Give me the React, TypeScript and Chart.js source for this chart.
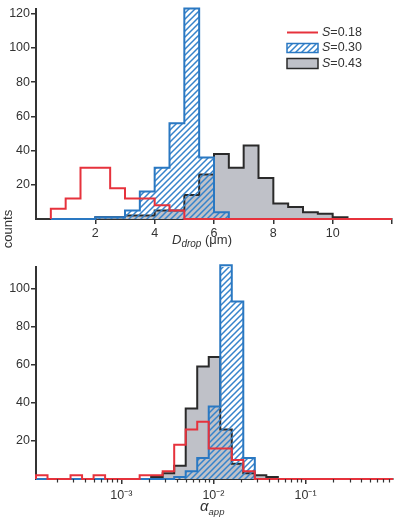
import { useEffect, useRef } from "react";
import { Chart, registerables } from "chart.js";

Chart.register(...registerables);

// ---- droplet diameter histogram (top panel) ----
const DROP_EDGES = [
  0.5, 1.0, 1.5, 2.0, 2.5, 3.0, 3.5, 4.0, 4.5, 5.0, 5.5, 6.0,
  6.5, 7.0, 7.5, 8.0, 8.5, 9.0, 9.5, 10.0, 10.5, 11.0, 11.5, 12.0,
];
const DROP_S018 = [6, 12, 30, 30, 18, 12, 12, 8, 5, 0, 0, 0, 0, 0, 0, 0, 0, 0, 0, 0, 0, 0, 0];
const DROP_S030 = [0, 0, 0, 1, 1, 5, 16, 30, 56, 123, 36, 4, null, null, null, null, null, null, null, null, null, null, null];
const DROP_S043 = [null, null, null, 1, 1, 2, 2, 5, 5, 14, 26, 38, 30, 43, 24, 9, 7, 4, 3, 1, null, null, null];
const DROP_TICKS = [2, 4, 6, 8, 10, 12];
const DROP_TICK_LABELS = ["2", "4", "6", "8", "10", ""];
const TOP_COUNT_TICKS = [20, 40, 60, 80, 100, 120];

// ---- apparent alpha histogram (bottom panel), bin edges as log10 exponents ----
const ALPHA_LOG_EDGES = [
  -3.926, -3.801, -3.676, -3.551, -3.426, -3.301, -3.176, -3.051,
  -2.926, -2.801, -2.676, -2.551, -2.426, -2.301, -2.176, -2.051,
  -1.926, -1.801, -1.676, -1.551, -1.426, -1.301, -1.176, -1.051,
  -0.926, -0.801, -0.676, -0.551, -0.426, -0.301, -0.176, -0.051,
];
const ALPHA_S018 = [2, 0, 0, 2, 0, 2, 0, 0, 0, 2, 2, 4, 18, 26, 30, 16, 16, 10, 4, 0, 0, 0, 0, 0, 0, 0, 0, 0, 0, 0, 0];
const ALPHA_S030 = [0, 0, 0, 0, 0, 0, 0, 0, 0, 0, 0, 0, 1, 4, 11, 38, 112, 93, 11, 0, null, null, null, null, null, null, null, null, null, null, null];
const ALPHA_S043 = [null, null, null, null, null, null, null, null, null, 0, 1, 3, 7, 37, 59, 64, 26, 8, 3, 2, 1, null, null, null, null, null, null, null, null, null, null];
const ALPHA_MAJOR_TICKS = [1e-3, 1e-2, 1e-1];
const ALPHA_TICK_LABELS = ["10⁻³", "10⁻²", "10⁻¹"];
const ALPHA_MINOR_TICKS = [
  2e-4, 3e-4, 4e-4, 5e-4, 6e-4, 7e-4, 8e-4, 9e-4,
  2e-3, 3e-3, 4e-3, 5e-3, 6e-3, 7e-3, 8e-3, 9e-3,
  2e-2, 3e-2, 4e-2, 5e-2, 6e-2, 7e-2, 8e-2, 9e-2,
  2e-1, 3e-1, 4e-1, 5e-1, 6e-1, 7e-1, 8e-1,
];
const BOTTOM_COUNT_TICKS = [20, 40, 60, 80, 100];

const LEGEND_VALUES = ["0.18", "0.30", "0.43"];

const RED = "#e6323c";
const BLUE = "#2a78c2";
const BLUE_HATCH = "#3583cb";
const GRAY_FILL = "#bfc1c8";
const GRAY_LINE = "#2a2a2a";
const AXIS = "#333333";
const TEXT = "#333333";
const FONT = "'Liberation Sans', Arial, sans-serif";

type Pt = { x: number; y: number };

// Turns bin edges + counts into an outline that the stepped line traces.
function stepPoints(edges: number[], counts: (number | null)[]): Pt[] {
  const pts: Pt[] = [];
  let open = false;
  for (let i = 0; i < counts.length; i++) {
    const c = counts[i];
    if (c == null) {
      if (open) {
        pts.push({ x: edges[i], y: 0 });
        open = false;
      }
      continue;
    }
    if (!open) {
      pts.push({ x: edges[i], y: 0 });
      open = true;
    }
    pts.push({ x: edges[i], y: c });
  }
  if (open) pts.push({ x: edges[counts.length], y: 0 });
  return pts;
}

function makeHatch(ctx: CanvasRenderingContext2D): CanvasPattern {
  const tile = document.createElement("canvas");
  tile.width = 6;
  tile.height = 6;
  const g = tile.getContext("2d")!;
  g.strokeStyle = BLUE_HATCH;
  g.lineWidth = 1.5;
  g.beginPath();
  g.moveTo(0, 6);
  g.lineTo(6, 0);
  g.moveTo(-1, 1);
  g.lineTo(1, -1);
  g.moveTo(5, 7);
  g.lineTo(7, 5);
  g.stroke();
  return ctx.createPattern(tile, "repeat")!;
}

function histDatasets(edges: number[], red: (number | null)[], blue: (number | null)[], gray: (number | null)[], hatch: CanvasPattern) {
  const common = {
    stepped: "before" as const,
    pointRadius: 0,
    pointHoverRadius: 0,
    borderWidth: 2,
    tension: 0,
    clip: false as const,
    borderJoinStyle: "miter" as const,
  };
  return [
    { ...common, label: "S=0.18", data: stepPoints(edges, red), borderColor: RED, fill: false },
    { ...common, label: "S=0.30", data: stepPoints(edges, blue), borderColor: BLUE, backgroundColor: hatch, fill: "origin" },
    { ...common, label: "S=0.43", data: stepPoints(edges, gray), borderColor: GRAY_LINE, backgroundColor: GRAY_FILL, fill: "origin" },
  ];
}

const tickFont = { family: FONT, size: 12.5 };

function countAxis(max: number, ticks: number[]) {
  return {
    type: "linear" as const,
    min: 0,
    max,
    afterBuildTicks: (s: any) => {
      s.ticks = ticks.map((v) => ({ value: v }));
    },
    afterFit: (s: any) => {
      s.width = 36;
    },
    ticks: { font: tickFont, color: TEXT, padding: 1 },
    grid: { drawOnChartArea: false, drawTicks: true, tickLength: 5, color: AXIS, lineWidth: 1.5 },
    border: { display: true, color: AXIS, width: 2, z: -1 },
  };
}

const legendPlugin = {
  id: "sLegend",
  afterDraw(chart: any) {
    const ctx: CanvasRenderingContext2D = chart.ctx;
    const hatch = chart.$hatch as CanvasPattern;
    const x0 = 287;
    const x1 = 318;
    const rows = [32.5, 48, 63.5];
    ctx.save();
    // line sample
    ctx.strokeStyle = RED;
    ctx.lineWidth = 2;
    ctx.beginPath();
    ctx.moveTo(x0, rows[0]);
    ctx.lineTo(x1, rows[0]);
    ctx.stroke();
    // hatched box sample
    ctx.fillStyle = hatch;
    ctx.fillRect(x0, rows[1] - 4.5, x1 - x0, 9);
    ctx.strokeStyle = BLUE;
    ctx.lineWidth = 1.5;
    ctx.strokeRect(x0, rows[1] - 4.5, x1 - x0, 9);
    // gray box sample
    ctx.fillStyle = GRAY_FILL;
    ctx.fillRect(x0, rows[2] - 5, x1 - x0, 10);
    ctx.strokeStyle = GRAY_LINE;
    ctx.strokeRect(x0, rows[2] - 5, x1 - x0, 10);
    // labels: italic S, upright value
    ctx.fillStyle = TEXT;
    ctx.textBaseline = "middle";
    LEGEND_VALUES.forEach((v, i) => {
      let x = 322;
      ctx.font = `italic 12.5px ${FONT}`;
      ctx.fillText("S", x, rows[i]);
      x += ctx.measureText("S").width;
      ctx.font = `12.5px ${FONT}`;
      ctx.fillText("=" + v, x, rows[i]);
    });
    ctx.restore();
  },
};

const minorTickPlugin = {
  id: "minorTicks",
  afterDraw(chart: any) {
    const xs = chart.scales.x;
    const ctx: CanvasRenderingContext2D = chart.ctx;
    const y = chart.chartArea.bottom;
    ctx.save();
    ctx.strokeStyle = AXIS;
    ctx.lineWidth = 1.2;
    ctx.beginPath();
    ALPHA_MINOR_TICKS.forEach((v) => {
      const px = Math.round(xs.getPixelForValue(v)) + 0.5;
      ctx.moveTo(px, y);
      ctx.lineTo(px, y + 3.5);
    });
    ctx.stroke();
    ctx.restore();
  },
};

export default function App() {
  const topRef = useRef<HTMLCanvasElement>(null);
  const botRef = useRef<HTMLCanvasElement>(null);

  useEffect(() => {
    const topCanvas = topRef.current!;
    const botCanvas = botRef.current!;
    const topHatch = makeHatch(topCanvas.getContext("2d")!);
    const botHatch = makeHatch(botCanvas.getContext("2d")!);

    const top = new Chart(topCanvas, {
      type: "line",
      data: { datasets: histDatasets(DROP_EDGES, DROP_S018, DROP_S030, DROP_S043, topHatch) as any },
      options: {
        responsive: false,
        animation: false,
        layout: { padding: { top: 5, right: 4, left: 0, bottom: 0 } },
        plugins: { legend: { display: false }, tooltip: { enabled: false } },
        scales: {
          x: {
            type: "linear",
            min: 0,
            max: 12,
            afterBuildTicks: (s: any) => {
              s.ticks = DROP_TICKS.map((v) => ({ value: v }));
            },
            afterFit: (s: any) => {
              s.height = 26;
            },
            ticks: {
              font: tickFont,
              color: TEXT,
              padding: 2,
              maxRotation: 0,
              autoSkip: false,
              callback: (v: any) => DROP_TICK_LABELS[DROP_TICKS.indexOf(Number(v))] ?? "",
            },
            grid: { drawOnChartArea: false, drawTicks: true, tickLength: 5, color: AXIS, lineWidth: 1.5 },
            border: { display: true, color: AXIS, width: 2, z: -1 },
          },
          y: countAxis(123, TOP_COUNT_TICKS) as any,
        },
      },
      plugins: [legendPlugin],
    });
    (top as any).$hatch = topHatch;
    top.draw();

    const bot = new Chart(botCanvas, {
      type: "line",
      data: {
        datasets: histDatasets(
          ALPHA_LOG_EDGES.map((e) => Math.pow(10, e)),
          ALPHA_S018,
          ALPHA_S030,
          ALPHA_S043,
          botHatch
        ) as any,
      },
      options: {
        responsive: false,
        animation: false,
        layout: { padding: { top: 16.7, right: 3, left: 0, bottom: 0 } },
        plugins: { legend: { display: false }, tooltip: { enabled: false } },
        scales: {
          x: {
            type: "logarithmic",
            min: Math.pow(10, ALPHA_LOG_EDGES[0]),
            max: Math.pow(10, ALPHA_LOG_EDGES[ALPHA_LOG_EDGES.length - 1]),
            afterBuildTicks: (s: any) => {
              s.ticks = ALPHA_MAJOR_TICKS.map((v) => ({ value: v }));
            },
            afterFit: (s: any) => {
              s.height = 39;
            },
            ticks: {
              font: tickFont,
              color: TEXT,
              padding: 4,
              maxRotation: 0,
              autoSkip: false,
              callback: (v: any) => {
                const i = ALPHA_MAJOR_TICKS.findIndex((t) => Math.abs(t - Number(v)) / t < 1e-6);
                return i >= 0 ? ALPHA_TICK_LABELS[i] : "";
              },
            },
            grid: { drawOnChartArea: false, drawTicks: true, tickLength: 5, color: AXIS, lineWidth: 1.5 },
            border: { display: true, color: AXIS, width: 2, z: -1 },
          },
          y: countAxis(111.3, BOTTOM_COUNT_TICKS) as any,
        },
      },
      plugins: [minorTickPlugin],
    });

    return () => {
      top.destroy();
      bot.destroy();
    };
  }, []);

  return (
    <div
      style={{
        position: "absolute",
        left: 0,
        top: 0,
        width: 396,
        height: 518,
        background: "#fff",
        fontFamily: FONT,
        color: TEXT,
        overflow: "hidden",
      }}
    >
      <canvas ref={topRef} width={396} height={245} style={{ position: "absolute", left: 0, top: 0 }} />
      <canvas ref={botRef} width={396} height={268} style={{ position: "absolute", left: 0, top: 250 }} />
      <div
        style={{
          position: "absolute",
          left: 7,
          top: 229,
          transform: "translate(-50%, -50%) rotate(-90deg)",
          fontSize: 13,
          lineHeight: "13px",
          whiteSpace: "nowrap",
        }}
      >
        counts
      </div>
      <div
        style={{
          position: "absolute",
          left: 172,
          top: 233,
          fontSize: 13,
          lineHeight: "13px",
          whiteSpace: "nowrap",
        }}
      >
        <i>D</i>
        <span style={{ fontSize: 10, fontStyle: "italic", position: "relative", top: 3 }}>drop</span> (μm)
      </div>
      <div
        style={{
          position: "absolute",
          left: 200,
          top: 498,
          fontSize: 15,
          lineHeight: "15px",
          whiteSpace: "nowrap",
        }}
      >
        <i>α</i>
        <span style={{ fontSize: 9.5, fontStyle: "italic", position: "relative", top: 4 }}>app</span>
      </div>
    </div>
  );
}
